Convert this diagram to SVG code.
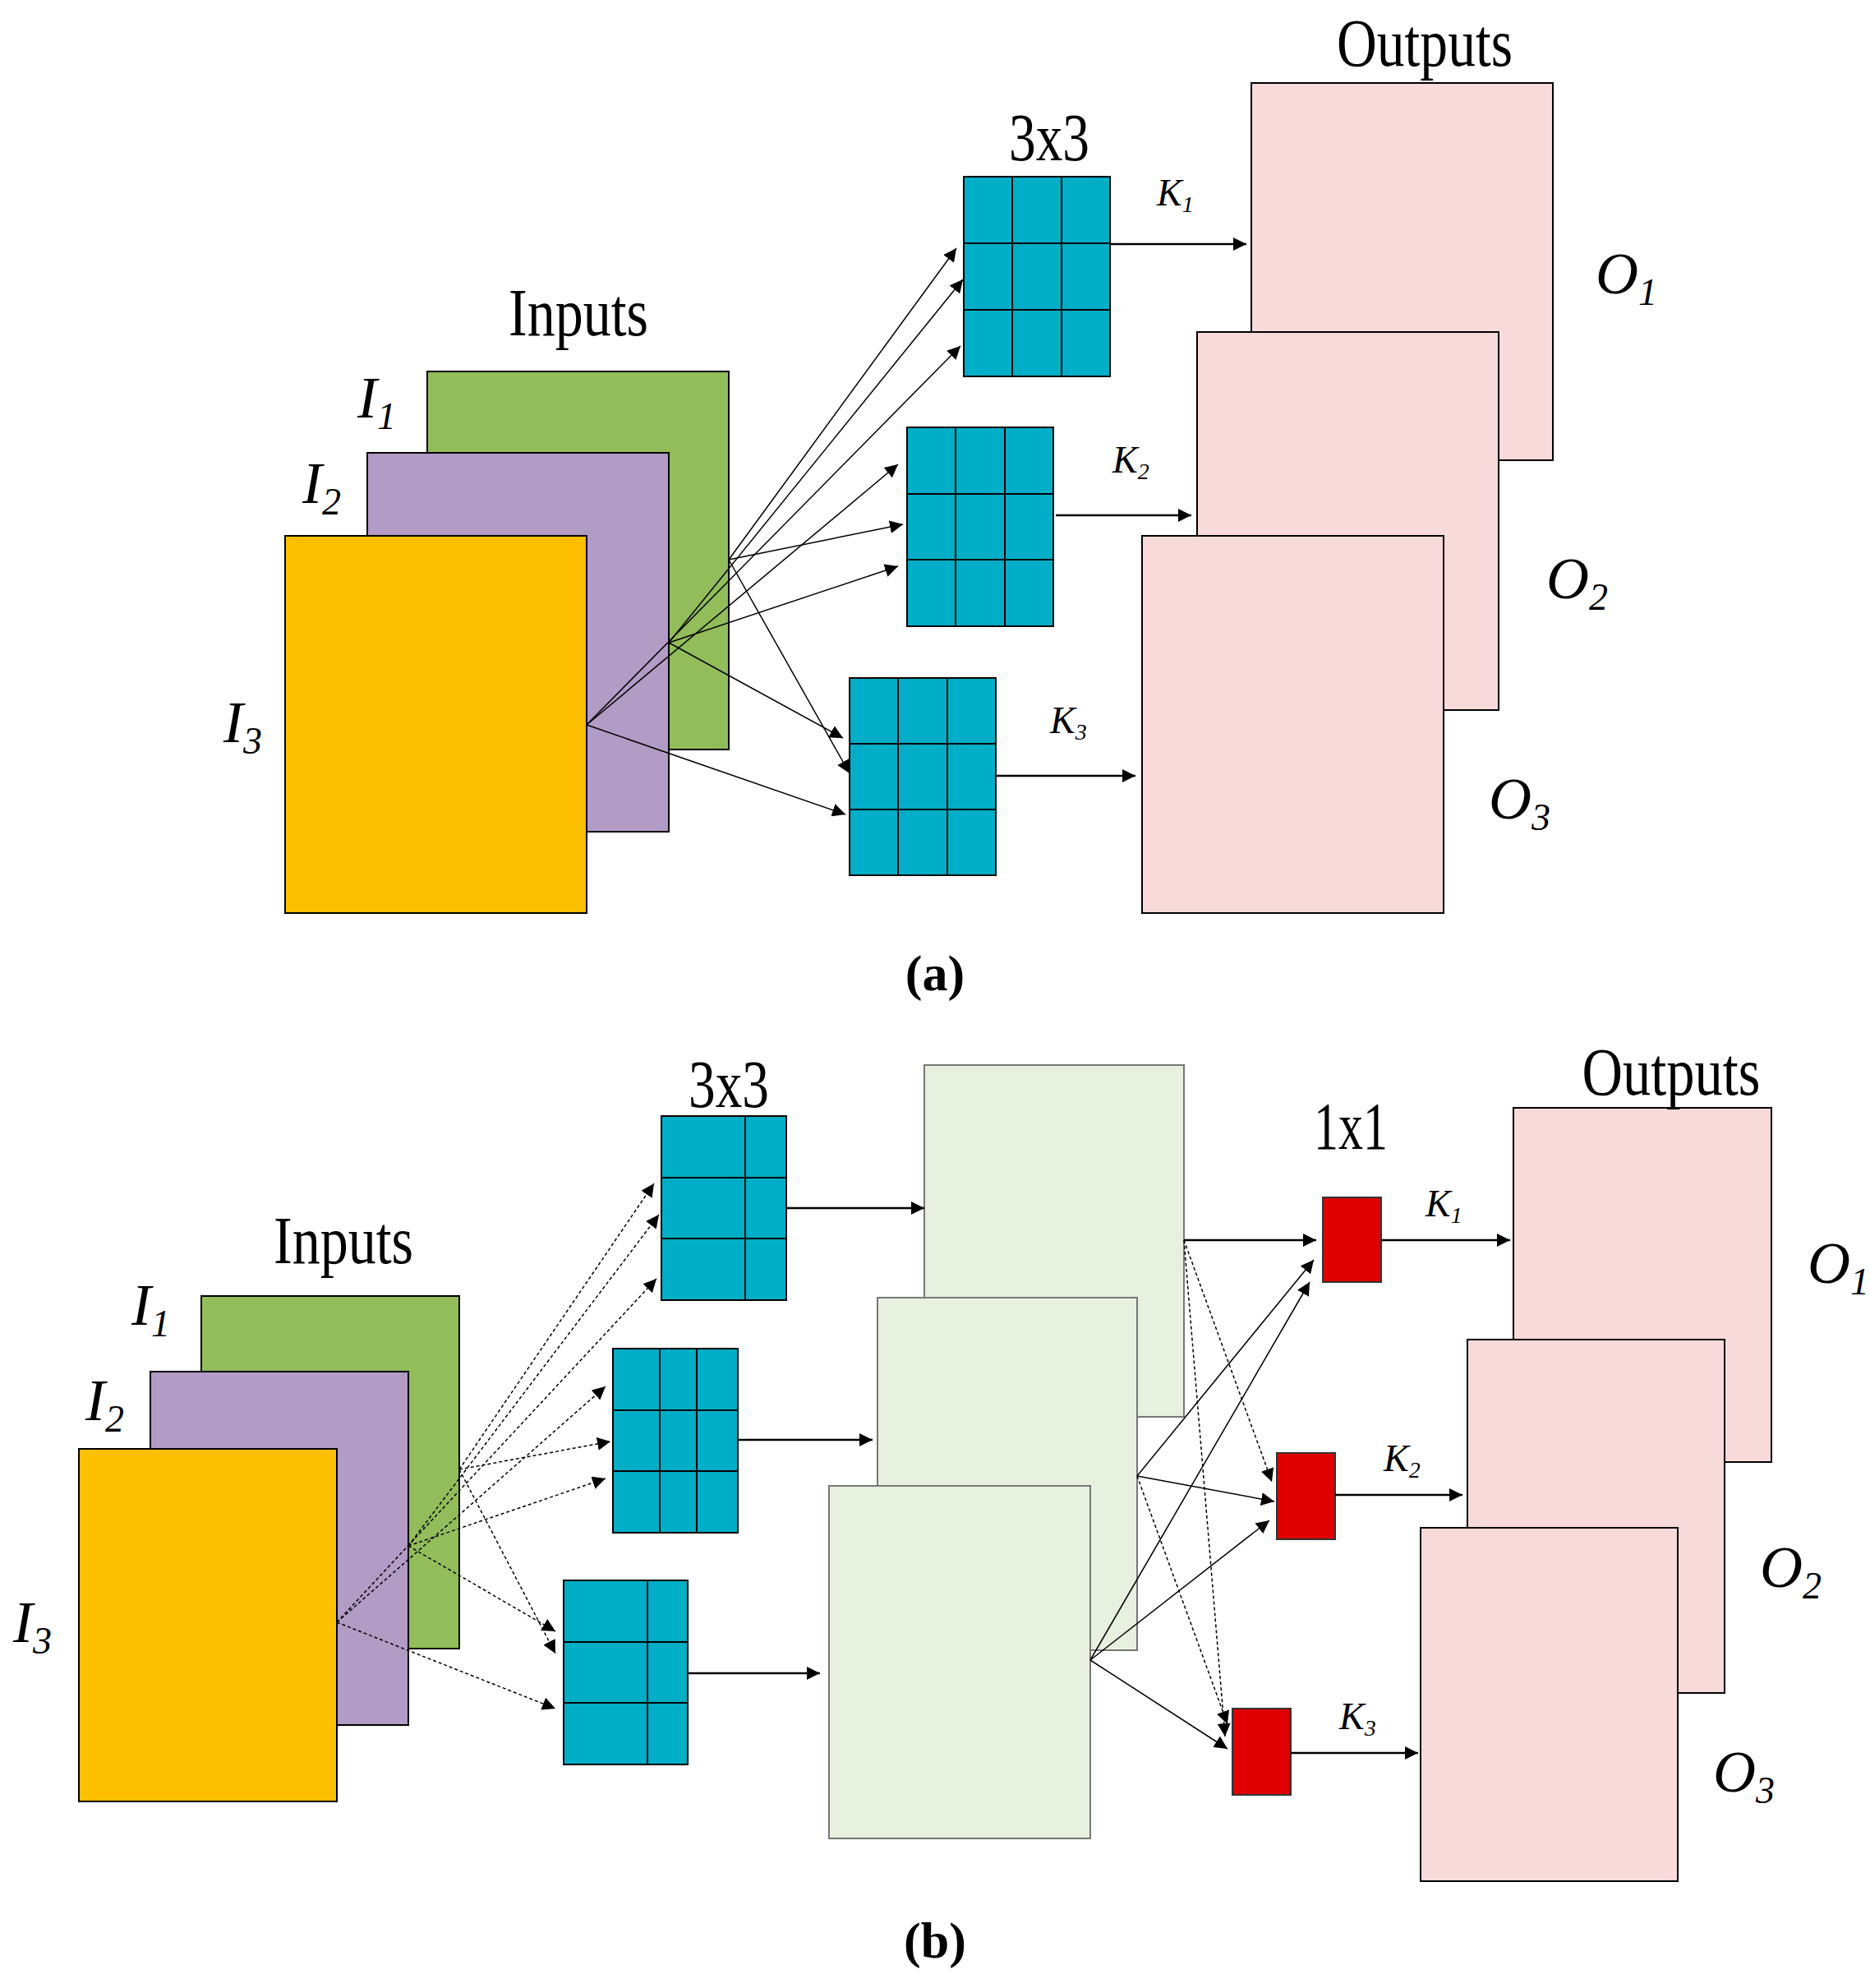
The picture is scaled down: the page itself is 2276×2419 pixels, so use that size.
<svg xmlns="http://www.w3.org/2000/svg" width="2276" height="2419" viewBox="0 0 2276 2419">
<style>
.t{font-family:"Liberation Serif",serif;fill:#000}
.big{font-size:82px}
.it{font-size:72px;font-style:italic}
.k{font-size:46px;font-style:italic}
.sub{font-size:46px}
.ksub{font-size:28px}
.cap{font-size:62px;font-weight:bold}
.ker{fill:#00AEC7;stroke:#000;stroke-width:2}
.gl{stroke:#000;stroke-width:2}
.out{fill:#F8DADA;stroke:#000;stroke-width:2}
.fm{fill:#E8F0DF;stroke:#777;stroke-width:2}
.red{fill:#E00000;stroke:#333;stroke-width:2}
.c{stroke:#000;stroke-width:1.5;fill:none;marker-end:url(#ah)}
.d{stroke:#000;stroke-width:1.5;fill:none;stroke-dasharray:4 3;marker-end:url(#ah)}
.c2{stroke:#000;stroke-width:2.5;fill:none;marker-end:url(#ah)}
</style>
<defs>
<marker id="ah" viewBox="0 0 10 10" refX="10" refY="5" markerWidth="16" markerHeight="16" markerUnits="userSpaceOnUse" orient="auto"><path d="M0,0L10,5L0,10z" fill="#000"/></marker>
</defs>
<rect width="2276" height="2419" fill="#fff"/>

<!-- (a) -->
<g id="a-inputs">
<rect x="520" y="452" width="367" height="460" fill="#92BD5A" stroke="#000" stroke-width="2"/>
<rect x="447" y="551" width="367" height="461" fill="#B29BC4" stroke="#000" stroke-width="2"/>
<rect x="347" y="652" width="367" height="459" fill="#FDC000" stroke="#000" stroke-width="2"/>
<text class="t big" x="704" y="408" text-anchor="middle" textLength="170" lengthAdjust="spacingAndGlyphs">Inputs</text>
<text class="t it" x="435" y="508">I<tspan class="sub" dy="14">1</tspan></text>
<text class="t it" x="368" y="612">I<tspan class="sub" dy="14">2</tspan></text>
<text class="t it" x="272" y="903">I<tspan class="sub" dy="14">3</tspan></text>
</g>
<g id="a-kernels">
<rect class="ker" x="1173" y="215" width="178" height="243"/>
<path class="gl" d="M1232,215V458M1292,215V458M1173,296H1351M1173,377H1351"/>
<rect class="ker" x="1104" y="520" width="178" height="242"/>
<path class="gl" d="M1163,520V762M1223,520V762M1104,601H1282M1104,681H1282"/>
<rect class="ker" x="1034" y="825" width="178" height="240"/>
<path class="gl" d="M1093,825V1065M1153,825V1065M1034,905H1212M1034,985H1212"/>
<text class="t big" x="1277" y="195" text-anchor="middle" textLength="98" lengthAdjust="spacingAndGlyphs">3x3</text>
</g>
<g id="a-outputs">
<rect class="out" x="1523" y="101" width="367" height="459"/>
<rect class="out" x="1457" y="404" width="367" height="460"/>
<rect class="out" x="1390" y="652" width="367" height="459"/>
<text class="t big" x="1734" y="80" text-anchor="middle" textLength="214" lengthAdjust="spacingAndGlyphs">Outputs</text>
<text class="t it" x="1942" y="357">O<tspan class="sub" dy="14">1</tspan></text>
<text class="t it" x="1882" y="728">O<tspan class="sub" dy="14">2</tspan></text>
<text class="t it" x="1812" y="996">O<tspan class="sub" dy="14">3</tspan></text>
<text class="t k" x="1408" y="250">K<tspan class="ksub" dy="8">1</tspan></text>
<text class="t k" x="1354" y="575">K<tspan class="ksub" dy="8">2</tspan></text>
<text class="t k" x="1278" y="892">K<tspan class="ksub" dy="8">3</tspan></text>
</g>
<text id="a-cap" class="t cap" x="1138" y="1205" text-anchor="middle">(a)</text>
<g id="a-connectors">
<path class="c2" d="M1351,297H1517"/>
<path class="c2" d="M1285,627H1450"/>
<path class="c2" d="M1212,944H1382"/>
<path class="c" d="M887,681L1164,302"/>
<path class="c" d="M887,681L1099,638"/>
<path class="c" d="M887,681L1034,941"/>
<path class="c" d="M814,782L1172,340"/>
<path class="c" d="M814,782L1093,689"/>
<path class="c" d="M814,782L1026,898"/>
<path class="c" d="M714,882L1169,421"/>
<path class="c" d="M714,882L1093,565"/>
<path class="c" d="M714,882L1029,991"/>
</g>

<!-- (b) -->
<g id="b-inputs">
<rect x="245" y="1577" width="314" height="429" fill="#92BD5A" stroke="#000" stroke-width="2"/>
<rect x="183" y="1669" width="314" height="430" fill="#B29BC4" stroke="#000" stroke-width="2"/>
<rect x="96" y="1763" width="314" height="429" fill="#FDC000" stroke="#000" stroke-width="2"/>
<text class="t big" x="418" y="1537" text-anchor="middle" textLength="170" lengthAdjust="spacingAndGlyphs">Inputs</text>
<text class="t it" x="160" y="1612">I<tspan class="sub" dy="14">1</tspan></text>
<text class="t it" x="104" y="1728">I<tspan class="sub" dy="14">2</tspan></text>
<text class="t it" x="16" y="1998">I<tspan class="sub" dy="14">3</tspan></text>
</g>
<g id="b-kernels">
<rect class="ker" x="805" y="1358" width="152" height="224"/>
<path class="gl" d="M907,1358V1582M805,1433H957M805,1507H957"/>
<rect class="ker" x="746" y="1641" width="152" height="224"/>
<path class="gl" d="M803,1641V1865M848,1641V1865M746,1716H898M746,1790H898"/>
<rect class="ker" x="686" y="1923" width="151" height="224"/>
<path class="gl" d="M788,1923V2147M686,1998H837M686,2072H837"/>
<text class="t big" x="887" y="1347" text-anchor="middle" textLength="98" lengthAdjust="spacingAndGlyphs">3x3</text>
</g>
<g id="b-features">
<rect class="fm" x="1125" y="1296" width="316" height="428"/>
<rect class="fm" x="1068" y="1579" width="316" height="429"/>
<rect class="fm" x="1009" y="1808" width="318" height="429"/>
</g>
<g id="b-red">
<rect class="red" x="1610" y="1457" width="71" height="103"/>
<rect class="red" x="1554" y="1768" width="71" height="105"/>
<rect class="red" x="1500" y="2079" width="71" height="105"/>
<text class="t big" x="1644" y="1398" text-anchor="middle" textLength="90" lengthAdjust="spacingAndGlyphs">1x1</text>
</g>
<g id="b-outputs">
<rect class="out" x="1842" y="1348" width="314" height="431"/>
<rect class="out" x="1786" y="1630" width="313" height="430"/>
<rect class="out" x="1729" y="1859" width="313" height="430"/>
<text class="t big" x="2034" y="1332" text-anchor="middle" textLength="217" lengthAdjust="spacingAndGlyphs">Outputs</text>
<text class="t it" x="2200" y="1561">O<tspan class="sub" dy="14">1</tspan></text>
<text class="t it" x="2142" y="1931">O<tspan class="sub" dy="14">2</tspan></text>
<text class="t it" x="2085" y="2180">O<tspan class="sub" dy="14">3</tspan></text>
<text class="t k" x="1735" y="1480">K<tspan class="ksub" dy="8">1</tspan></text>
<text class="t k" x="1684" y="1790">K<tspan class="ksub" dy="8">2</tspan></text>
<text class="t k" x="1630" y="2104">K<tspan class="ksub" dy="8">3</tspan></text>
</g>
<text id="b-cap" class="t cap" x="1138" y="2382" text-anchor="middle">(b)</text>
<g id="b-connectors">
<path class="c2" d="M957,1470H1125"/>
<path class="c2" d="M898,1752H1062"/>
<path class="c2" d="M837,2036H998"/>
<path class="c2" d="M1441,1509H1602"/>
<path class="c2" d="M1681,1509H1838"/>
<path class="c2" d="M1625,1819H1780"/>
<path class="c2" d="M1571,2133H1726"/>
<path class="d" d="M559,1788L796,1440"/>
<path class="d" d="M559,1788L743,1754"/>
<path class="d" d="M559,1788L676,2012"/>
<path class="d" d="M497,1881L802,1478"/>
<path class="d" d="M497,1881L737,1799"/>
<path class="d" d="M497,1881L676,1985"/>
<path class="d" d="M410,1974L799,1556"/>
<path class="d" d="M410,1974L737,1687"/>
<path class="d" d="M410,1974L676,2079"/>
<path class="d" d="M1441,1509L1548,1803"/>
<path class="d" d="M1441,1509L1491,2113"/>
<path class="c" d="M1384,1796L1599,1533"/>
<path class="c" d="M1384,1796L1551,1827"/>
<path class="d" d="M1384,1796L1494,2098"/>
<path class="c" d="M1327,2020L1594,1560"/>
<path class="c" d="M1327,2020L1545,1850"/>
<path class="c" d="M1327,2020L1494,2128"/>
</g>
</svg>
